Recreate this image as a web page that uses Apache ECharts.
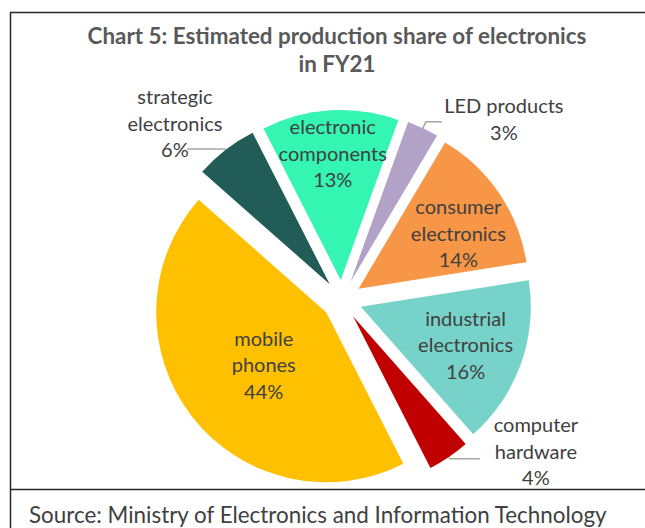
<!DOCTYPE html>
<html><head><meta charset="utf-8">
<script src="https://cdn.jsdelivr.net/npm/echarts@6/dist/echarts.min.js"></script>
<style>html,body{margin:0;padding:0;background:#fff}#c{width:645px;height:528px}</style>
</head><body><div id="c"></div>
<script>
// ---- data ----
const categories = ['electronic components', 'LED products', 'consumer electronics', 'industrial electronics', 'computer hardware', 'mobile phones', 'strategic electronics'];
const shares = [13, 3, 14, 16, 4, 44, 6];
const titleLines = ['Chart 5: Estimated production share of electronics', 'in FY21'];
const sourceText = 'Source: Ministry of Electronics and Information Technology';

// ---- styles ----
const FONT = 'Lato';
const TXT = '#404040';
const LBL = 20;
const CX = 342, CY = 300, R = 170, OFF = 20;
const sliceStyle = [
  { color: '#34F5B1', inside: true, f: 0.75, shift: [0, 0] },
  { color: '#B3A2C7', inside: false, oneLine: true, w: 114, len: 7, len2: 16, pad: 6, dist: 5 },
  { color: '#F79646', inside: true, f: 0.66, shift: [7, 7] },
  { color: '#77D3C9', inside: true, f: 0.655, shift: [0, 0] },
  { color: '#C00000', inside: false, w: 102, len: 2, len2: 30, pad: 16, dist: 5 },
  { color: '#FFC000', inside: true, f: 0.48, shift: [2, 2] },
  { color: '#215C58', inside: false, w: 24, len: 1, len2: 38, pad: 53, dist: 0 }
];

function lines(name, oneLine) {
  return oneLine ? [name] : [name.substring(0, name.indexOf(' ')), name.substring(name.indexOf(' ') + 1)];
}

const data = categories.map((name, i) => {
  const st = sliceStyle[i];
  const item = { name: name, value: shares[i], selected: true, itemStyle: { color: st.color } };
  if (st.inside) {
    item.label = {
      position: 'inside',
      formatter: p => lines(p.name).concat([p.value + '%']).join('\n'),
      color: TXT, fontFamily: FONT, fontSize: LBL, lineHeight: 26.5, align: 'center'
    };
  } else {
    item.label = {
      position: 'outside',
      distanceToLabelLine: st.dist,
      padding: [0, 0, st.pad, 0],
      formatter: p => lines(p.name, st.oneLine).concat([p.value + '%']).map(s => '{t|' + s + '}').join('\n'),
      rich: { t: { width: st.w, align: 'center', color: TXT, fontFamily: FONT, fontSize: LBL, lineHeight: 26.5 } }
    };
    item.labelLine = { show: true, length: st.len, length2: st.len2, lineStyle: { color: '#A6A6A6', width: 1.5 } };
  }
  return item;
});

const chart = echarts.init(document.getElementById('c'), null, { renderer: 'svg' });
chart.setOption({
  animation: false,
  backgroundColor: '#fff',
  graphic: [
    { type: 'polyline', silent: true, shape: { points: [[10.5, 528], [10.5, 12.5], [645, 12.5]] }, style: { stroke: '#262626', lineWidth: 1.5, fill: null } },
    { type: 'line', silent: true, shape: { x1: 10, y1: 489.5, x2: 645, y2: 489.5 }, style: { stroke: '#262626', lineWidth: 1.5 } },
    { type: 'text', silent: true, style: { text: titleLines.join('\n'), x: 337, y: 49.5, align: 'center', verticalAlign: 'middle', fill: '#595959', font: 'bold 22.4px Lato', lineHeight: 28.5 } },
    { type: 'text', silent: true, style: { text: sourceText, x: 29, y: 514, align: 'left', verticalAlign: 'middle', fill: TXT, font: '22.4px Lato' } }
  ],
  series: [{
    type: 'pie',
    center: [CX, CY],
    radius: R,
    startAngle: 117,
    clockwise: true,
    selectedMode: 'multiple',
    selectedOffset: OFF,
    avoidLabelOverlap: false,
    emphasis: { disabled: true, scale: false },
    select: { itemStyle: { borderWidth: 0 } },
    itemStyle: { borderWidth: 0 },
    labelLayout: function (p) {
      const st = sliceStyle[p.dataIndex];
      if (!st.inside) return {};
      const r = p.labelRect;
      const lx = r.x + r.width / 2, ly = r.y + r.height / 2;
      const vx = lx - CX, vy = ly - CY;
      const d = Math.hypot(vx, vy);
      const tx = CX + vx / d * (st.f * R) + st.shift[0], ty = CY + vy / d * (st.f * R) + st.shift[1];
      return { dx: tx - lx, dy: ty - ly };
    },
    data: data
  }]
});
</script>
</body></html>
